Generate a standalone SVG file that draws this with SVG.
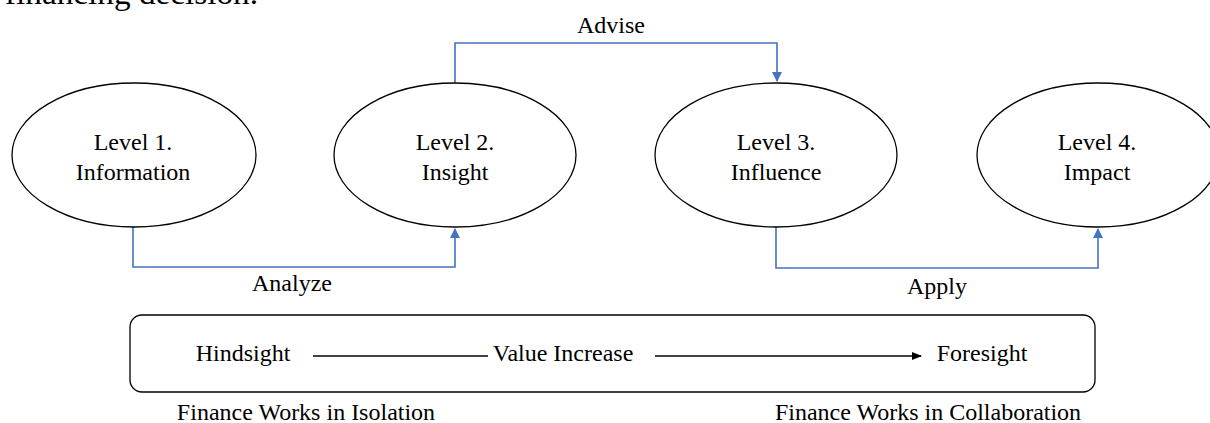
<svg xmlns="http://www.w3.org/2000/svg" width="1210" height="423" viewBox="0 0 1210 423">
<defs>
<style>
text{font-family:'Liberation Serif','Times New Roman','DejaVu Serif',serif;font-size:24px;fill:#000}
.mid{text-anchor:middle}
.node{fill:#fff;stroke:#000;stroke-width:1.3}
.conn{fill:none;stroke:#4472C4;stroke-width:1.6}
.blk{fill:none;stroke:#000;stroke-width:1.3}
</style>
<marker id="ab" markerWidth="10" markerHeight="10" refX="9" refY="5" orient="auto" markerUnits="userSpaceOnUse">
<path d="M0,0 L10,5 L0,10 Z" fill="#4472C4"/>
</marker>
<marker id="ak" markerWidth="10" markerHeight="8" refX="9" refY="4" orient="auto" markerUnits="userSpaceOnUse">
<path d="M0,0 L10,4 L0,8 Z" fill="#000"/>
</marker>
</defs>
<rect width="1210" height="423" fill="#fff"/>
<text x="5" y="4" textLength="253" lengthAdjust="spacingAndGlyphs" style="font-size:32px">financing decision.</text>
<g id="connectors">
<path class="conn" d="M133,227 V267 H455 V229" marker-end="url(#ab)"/>
<path class="conn" d="M455,83 V43 H777 V81" marker-end="url(#ab)"/>
<path class="conn" d="M776,227 V268 H1098 V229" marker-end="url(#ab)"/>
<text class="mid" x="292" y="291">Analyze</text>
<text class="mid" x="611" y="33">Advise</text>
<text class="mid" x="937" y="294">Apply</text>
</g>
<g id="n1">
<ellipse class="node" cx="134" cy="155" rx="122" ry="72"/>
<text class="mid" x="133" y="150">Level 1.</text>
<text class="mid" x="133" y="180">Information</text>
</g>
<g id="n2">
<ellipse class="node" cx="455" cy="155" rx="121" ry="72"/>
<text class="mid" x="455" y="150">Level 2.</text>
<text class="mid" x="455" y="180">Insight</text>
</g>
<g id="n3">
<ellipse class="node" cx="776" cy="155" rx="121" ry="72"/>
<text class="mid" x="776" y="150">Level 3.</text>
<text class="mid" x="776" y="180">Influence</text>
</g>
<g id="n4">
<ellipse class="node" cx="1098" cy="155" rx="121" ry="72"/>
<text class="mid" x="1097" y="150">Level 4.</text>
<text class="mid" x="1097" y="180">Impact</text>
</g>
<g id="valuebar">
<rect class="blk" x="130" y="315" width="965" height="77" rx="12" ry="12"/>
<text class="mid" x="243" y="361">Hindsight</text>
<line class="blk" x1="313" y1="356" x2="488" y2="356"/>
<text class="mid" x="563" y="361">Value Increase</text>
<line class="blk" x1="655" y1="356" x2="921" y2="356" marker-end="url(#ak)"/>
<text class="mid" x="982" y="361">Foresight</text>
</g>
<text class="mid" x="306" y="420">Finance Works in Isolation</text>
<text class="mid" x="928" y="420">Finance Works in Collaboration</text>
</svg>
